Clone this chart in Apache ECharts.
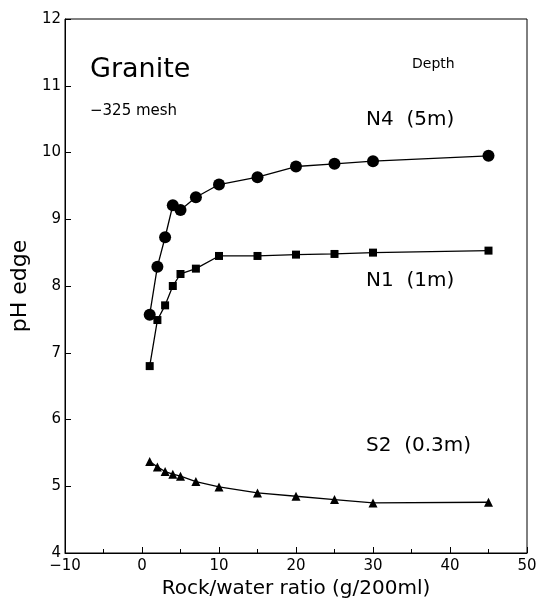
<!DOCTYPE html>
<html>
<head>
<meta charset="utf-8">
<script src="https://cdn.jsdelivr.net/npm/echarts@6/dist/echarts.min.js"></script>
<style>
  html, body { margin: 0; padding: 0; background: #fff; }
  #chart { width: 539px; height: 601px; }
</style>
</head>
<body>
<div id="chart"></div>
<script>
// rock/water ratio (g/200ml)
var ratioN4 = [1, 2, 3, 4, 5, 7, 10, 15, 20, 25, 30, 45];
var phN4 = [7.57, 8.29, 8.73, 9.21, 9.14, 9.33, 9.52, 9.63, 9.79, 9.83, 9.87, 9.95];

var ratioN1 = [1, 2, 3, 4, 5, 7, 10, 15, 20, 25, 30, 45];
var phN1 = [6.80, 7.49, 7.71, 8.00, 8.18, 8.26, 8.45, 8.45, 8.47, 8.48, 8.50, 8.53];

var ratioS2 = [1, 2, 3, 4, 5, 7, 10, 15, 20, 25, 30, 45];
var phS2 = [5.37, 5.29, 5.22, 5.18, 5.15, 5.07, 4.99, 4.90, 4.85, 4.80, 4.75, 4.76];

var seriesNames = ['N4 (5m)', 'N1 (1m)', 'S2 (0.3m)'];

function pairs(xs, ys) {
    var out = [];
    for (var i = 0; i < xs.length; i++) out.push([xs[i], ys[i]]);
    return out;
}

var font = 'DejaVu Sans';
var myChart = echarts.init(document.getElementById('chart'));

var option = {
    backgroundColor: '#fff',
    animation: false,
    grid: {
        left: 65, right: 12, top: 19, bottom: 48,
        outerBoundsMode: 'none',
        show: true, borderColor: '#000', borderWidth: 1
    },
    xAxis: {
        type: 'value',
        min: -10, max: 50, interval: 10,
        name: 'Rock/water ratio (g/200ml)',
        nameLocation: 'middle',
        nameGap: 21,
        nameTextStyle: { fontFamily: font, fontSize: 20, color: '#000' },
        axisLine: { show: true, onZero: false, lineStyle: { color: '#000', width: 1 } },
        axisTick: { show: true, inside: true, length: 6, lineStyle: { color: '#000' } },
        minorTick: { show: true, splitNumber: 2, length: 4, lineStyle: { color: '#000' } },
        axisLabel: { fontFamily: font, fontSize: 15, color: '#000', margin: 6,
            formatter: function (v) { return v < 0 ? '\u2212' + (-v) : String(v); } },
        splitLine: { show: false }
    },
    yAxis: {
        type: 'value',
        min: 4, max: 12, interval: 1,
        name: 'pH edge',
        nameLocation: 'middle',
        nameGap: 30,
        nameTextStyle: { fontFamily: font, fontSize: 22, color: '#000' },
        axisLine: { show: true, onZero: false, lineStyle: { color: '#000', width: 1 } },
        axisTick: { show: true, inside: true, length: 6, lineStyle: { color: '#000' } },
        axisLabel: { fontFamily: font, fontSize: 15, color: '#000', margin: 4 },
        splitLine: { show: false }
    },
    series: [
        {
            name: seriesNames[0], type: 'line',
            data: pairs(ratioN4, phN4),
            symbol: 'circle', symbolSize: 12,
            itemStyle: { color: '#000' },
            lineStyle: { color: '#000', width: 1.3 }
        },
        {
            name: seriesNames[1], type: 'line',
            data: pairs(ratioN1, phN1),
            symbol: 'rect', symbolSize: 8,
            itemStyle: { color: '#000' },
            lineStyle: { color: '#000', width: 1.3 }
        },
        {
            name: seriesNames[2], type: 'line',
            data: pairs(ratioS2, phS2),
            symbol: 'triangle', symbolSize: 9,
            itemStyle: { color: '#000' },
            lineStyle: { color: '#000', width: 1.3 }
        }
    ],
    graphic: [
        { type: 'text', left: 90, top: 56,
          style: { text: 'Granite', font: '27px "' + font + '"', fill: '#000' } },
        { type: 'text', left: 90, top: 104,
          style: { text: '\u2212325 mesh', font: '15px "' + font + '"', fill: '#000' } },
        { type: 'text', left: 412, top: 57,
          style: { text: 'Depth', font: '14px "' + font + '"', fill: '#000' } },
        { type: 'text', left: 366, top: 110,
          style: { text: 'N4  (5m)', font: '20px "' + font + '"', fill: '#000' } },
        { type: 'text', left: 366, top: 271,
          style: { text: 'N1  (1m)', font: '20px "' + font + '"', fill: '#000' } },
        { type: 'text', left: 366, top: 436,
          style: { text: 'S2  (0.3m)', font: '20px "' + font + '"', fill: '#000' } }
    ]
};

myChart.setOption(option);
</script>
</body>
</html>
